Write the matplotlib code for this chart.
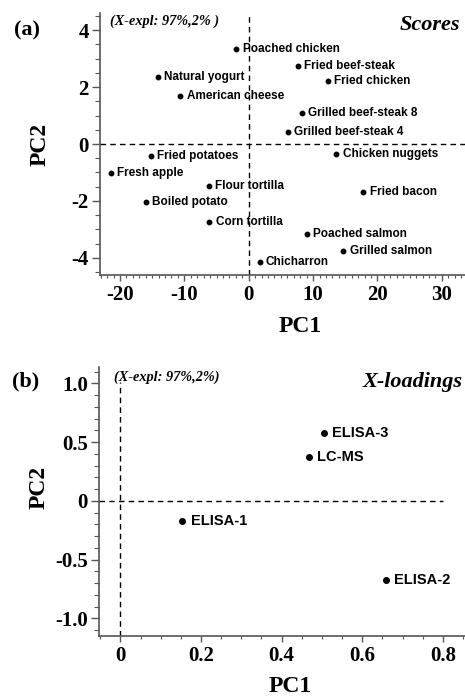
import matplotlib
matplotlib.use("Agg")
import matplotlib.pyplot as plt
from matplotlib.ticker import MultipleLocator

plt.rcParams["axes.unicode_minus"] = False

# ---- data ----
score_names = ["Poached chicken", "Fried beef-steak", "Natural yogurt", "Fried chicken",
               "American cheese", "Grilled beef-steak 8", "Grilled beef-steak 4",
               "Fried potatoes", "Chicken nuggets", "Fresh apple", "Flour tortilla",
               "Fried bacon", "Boiled potato", "Corn tortilla", "Poached salmon",
               "Grilled salmon", "Chicharron"]
score_pc1 = [-1.9, 7.6, -14.1, 12.25, -10.6, 8.3, 6.1, -15.2, 13.6, -21.4, -6.2,
             17.8, -16.0, -6.1, 9.0, 14.7, 1.7]
score_pc2 = [3.32, 2.74, 2.35, 2.2, 1.68, 1.09, 0.42, -0.42, -0.36, -1.02, -1.46,
             -1.70, -2.03, -2.74, -3.17, -3.75, -4.15]

load_names = ["ELISA-3", "LC-MS", "ELISA-1", "ELISA-2"]
load_pc1 = [0.504, 0.468, 0.154, 0.659]
load_pc2 = [0.575, 0.37, -0.172, -0.675]

score_xticks = [-20, -10, 0, 10, 20, 30]
score_yticks = [-4, -2, 0, 2, 4]
load_xticks = [0, 0.2, 0.4, 0.6, 0.8]
load_xlabels = ["0", "0.2", "0.4", "0.6", "0.8"]
load_yticks = [-1.0, -0.5, 0, 0.5, 1.0]
load_ylabels = ["-1.0", "-0.5", "0", "0.5", "1.0"]

W, H = 465, 697
fig = plt.figure(figsize=(W / 100, H / 100), dpi=100)

serif = "Liberation Serif"
sans = "Liberation Sans"
axis_color = "#555555"


def style_axes(ax):
    for s in ["top", "right"]:
        ax.spines[s].set_visible(False)
    for s in ["left", "bottom"]:
        ax.spines[s].set_color(axis_color)
        ax.spines[s].set_linewidth(1.2)
    ax.tick_params(axis="y", which="major", direction="out", length=6, width=1.0,
                   color=axis_color, labelsize=15, pad=2)
    ax.tick_params(axis="x", which="major", direction="out", length=4, width=1.0,
                   color=axis_color, labelsize=15, pad=3)
    ax.tick_params(axis="y", which="minor", direction="out", length=3.5, width=0.8,
                   color=axis_color)
    ax.tick_params(axis="x", which="minor", direction="out", length=2.5, width=0.8,
                   color=axis_color)
    for lab in ax.get_xticklabels() + ax.get_yticklabels():
        lab.set_fontfamily(serif)
        lab.set_fontweight("bold")


def fx(px):
    return px / W


def fy(py):
    return 1 - py / H


dash = (0, (4, 3))

# ---- panel (a) ----
ax1 = fig.add_axes([fx(100), fy(275), 1 - fx(100), fy(13) - fy(275)])
ax1.set_xlim(-23.1, 33.6)
ax1.set_ylim(-4.6, 4.6)
ax1.axhline(0, color="black", lw=1.0, ls=dash)
ax1.axvline(0, color="black", lw=1.0, ls=dash)
ax1.plot(score_pc1, score_pc2, "o", color="black", ms=3.2, ls="none")
for n, x, y in zip(score_names, score_pc1, score_pc2):
    ax1.annotate(n, (x, y), xytext=(4.5, 0), textcoords="offset points", va="center",
                 ha="left", fontsize=8.5, fontweight="bold", family=sans)
ax1.set_xticks(score_xticks)
ax1.set_yticks(score_yticks)
ax1.set_xticklabels([str(v) for v in score_xticks])
ax1.set_yticklabels([str(v) for v in score_yticks])
ax1.xaxis.set_minor_locator(MultipleLocator(1))
ax1.yaxis.set_minor_locator(MultipleLocator(0.5))
style_axes(ax1)

# ---- panel (b) ----
ax2 = fig.add_axes([fx(99), fy(636), 1 - fx(99), fy(367) - fy(636)])
ax2.set_xlim(-0.053, 0.855)
ax2.set_ylim(-1.15, 1.14)
ax2.plot([-0.053, 0.8], [0, 0], color="black", lw=1.0, ls=dash)
ax2.plot([0, 0], [-1.15, 1.01], color="black", lw=1.0, ls=dash)
ax2.plot(load_pc1, load_pc2, "o", color="black", ms=4, ls="none")
for n, x, y in zip(load_names, load_pc1, load_pc2):
    ax2.annotate(n, (x, y), xytext=(6, 0), textcoords="offset points", va="center",
                 ha="left", fontsize=10.5, fontweight="bold", family=sans)
ax2.set_xticks(load_xticks)
ax2.set_yticks(load_yticks)
ax2.set_xticklabels(load_xlabels)
ax2.set_yticklabels(load_ylabels)
ax2.xaxis.set_minor_locator(MultipleLocator(0.05))
ax2.yaxis.set_minor_locator(MultipleLocator(0.1))
style_axes(ax2)

# ---- texts ----
tb = dict(family=serif, fontweight="bold")
fig.text(fx(27), fy(30), "(a)", fontsize=16, ha="center", va="center", **tb)
fig.text(fx(26), fy(381), "(b)", fontsize=16, ha="center", va="center", **tb)
fig.text(fx(300), fy(326), "PC1", fontsize=17, ha="center", va="center", **tb)
fig.text(fx(290), fy(686), "PC1", fontsize=17, ha="center", va="center", **tb)
fig.text(fx(40), fy(144), "PC2", fontsize=17, ha="center", va="center", rotation=90, **tb)
fig.text(fx(39), fy(487), "PC2", fontsize=17, ha="center", va="center", rotation=90, **tb)
fig.text(fx(460), fy(25), "Scores", fontsize=16, ha="right", va="center", style="italic", **tb)
fig.text(fx(463), fy(382), "X-loadings", fontsize=16, ha="right", va="center", style="italic", **tb)
fig.text(fx(110), fy(21), "(X-expl: 97%,2% )", fontsize=10.3, ha="left", va="center",
         style="italic", **tb)
fig.text(fx(114), fy(377), "(X-expl: 97%,2%)", fontsize=10.3, ha="left", va="center",
         style="italic", **tb)

fig.savefig("out.png", dpi=100)
